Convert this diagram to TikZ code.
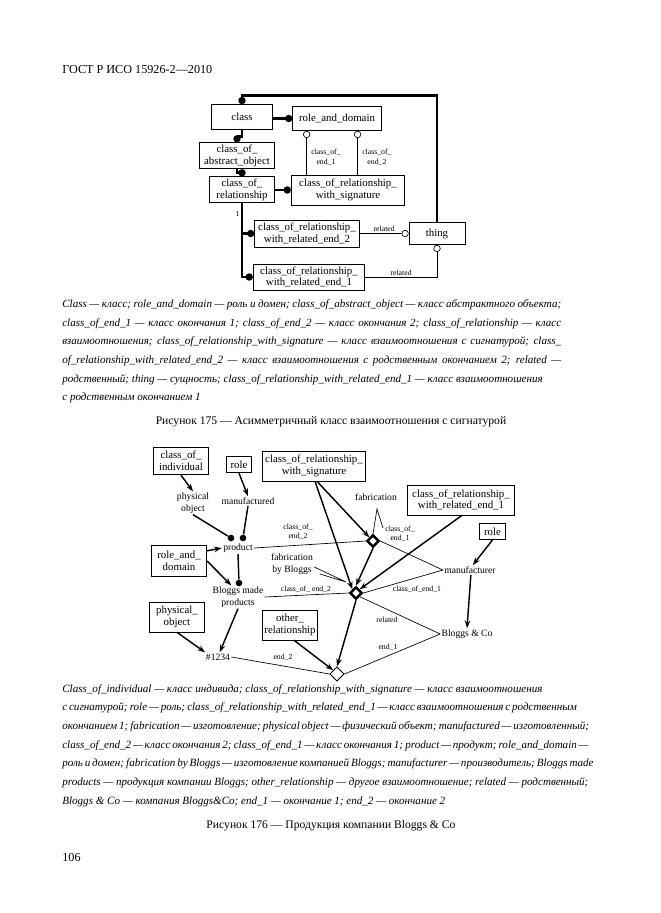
\documentclass[tikz,border=0pt]{standalone}
\usepackage{fontspec}
\setmainfont{Liberation Serif}
\usetikzlibrary{arrows,arrows.meta}
\usetikzlibrary{positioning}
\usetikzlibrary{calc}
\usetikzlibrary{shapes.geometric}

\begin{document}
\begin{tikzpicture}[x=0.3175mm,y=-0.3175mm,>=stealth',semithick,
			font=\fontsize{9.8}{10.6}\selectfont]
			\tikzstyle{entity}=[draw,line width=0.7pt,align=center,inner sep=1pt]
			\tikzstyle{lbl}=[align=center,inner sep=1pt,font=\fontsize{8.7}{10.5}\selectfont]
			\tikzstyle{tag}=[align=center,inner sep=1pt,font=\fontsize{7}{8.5}\selectfont]
			\tikzstyle{sub}=[line width=2.5pt,-{Circle[length=6.5pt]}]
			\tikzstyle{rel}=[line width=0.6pt]
			\tikzstyle{cls}=[line width=1.3pt,-{Stealth[length=7pt,width=5pt]}]
			\tikzstyle{mem}=[line width=1.3pt]
			\tikzstyle{dot}=[circle,fill,inner sep=0pt,minimum size=6pt]
			\tikzstyle{rship}=[diamond,draw,fill=white,line width=2.2pt,inner sep=0pt,minimum size=11pt]
			\tikzstyle{orship}=[diamond,draw,fill=white,line width=0.7pt,inner sep=0pt,minimum size=13pt]
			\tikzstyle{capline}=[anchor=base west,inner sep=0pt,font=\fontsize{10}{12}\selectfont\itshape]
			
			\fill[white] (0,0) rectangle (661,913);
			\useasboundingbox (0,0) rectangle (661,913);
			
			\node[anchor=base west,inner sep=0pt,font=\fontsize{11}{13}\selectfont] (head) at (62,73) {ГОСТ Р ИСО 15926-2—2010};
			
			% figure 175
			\node[entity,minimum width=55pt,minimum height=22.5pt]   (class)   at (242,117)   {class};
			\node[entity,minimum width=80pt,minimum height=21.6pt]   (rad)     at (337,118.5) {role\_and\_domain};
			\node[entity,minimum width=68pt,minimum height=23pt]     (coao)    at (237,155.5) {class\_of\_\\abstract\_object};
			\node[entity,minimum width=58.5pt,minimum height=23pt]   (cor)     at (242,189.5) {class\_of\_\\relationship};
			\node[entity,minimum width=102.6pt,minimum height=27pt]  (corws)   at (348,190)   {class\_of\_relationship\_\\with\_signature};
			\node[entity,minimum width=94.5pt,minimum height=24.3pt] (corwre2) at (307,233.5) {class\_of\_relationship\_\\with\_related\_end\_2};
			\node[entity,minimum width=100.8pt,minimum height=23.4pt](corwre1) at (309,277)   {class\_of\_relationship\_\\with\_related\_end\_1};
			\node[entity,minimum width=50.4pt,minimum height=19.8pt] (thing)   at (437,233.5) {thing};
			
			\coordinate (ce1top) at ($(rad.south west)!0.16!(rad.south east)$);
			\coordinate (ce2top) at ($(rad.south west)!0.73!(rad.south east)$);
			
			\draw[sub] (thing.north) |- ($(class.north)+(0,-9)$) -- (class.north);
			\draw[sub] (class.east |- rad.west) -- (rad.west);
			\draw[sub] (class.south) -- ++(0,7) -| (coao.north);
			\draw[sub] (coao.south) -- ++(0,4) -| (cor.north);
			\draw[sub] (cor.east |- corws.west) -- (corws.west);
			\draw[sub] (cor.south) |- node[pos=.18,left,tag] {1} (corwre2.west);
			\draw[sub] (cor.south) |- (corwre1.west);
			
			\draw[rel,{Circle[open,length=6.5pt]}-] (ce1top) -- (ce1top |- corws.north)
			node[pos=.6,right=3pt,tag] {class\_of\_\\end\_1};
			\draw[rel,{Circle[open,length=6.5pt]}-] (ce2top) -- (ce2top |- corws.north)
			node[pos=.6,right=3pt,tag] {class\_of\_\\end\_2};
			\draw[rel,-{Circle[open,length=6.5pt]}] (corwre2.east) -- node[above,tag] {related} (thing.west);
			\draw[rel,-{Circle[open,length=6.5pt]}] (corwre1.east) -| node[pos=.25,above,tag] {related} (thing.south);
			
			\node[capline] (c175a) at (62,307) {\makebox[158.4mm][s]{Class — класс; role\_and\_domain — роль и домен; class\_of\_abstract\_object — класс абстрактного объекта;}};
			\node[capline] (c175b) at (62,326) {\makebox[158.4mm][s]{class\_of\_end\_1 — класс окончания 1; class\_of\_end\_2 — класс окончания 2; class\_of\_relationship — класс}};
			\node[capline] (c175c) at (62,344.5) {\makebox[158.4mm][s]{взаимоотношения; class\_of\_relationship\_with\_signature — класс взаимоотношения с сигнатурой; class\_}};
			\node[capline] (c175d) at (62,363) {\makebox[158.4mm][s]{of\_relationship\_with\_related\_end\_2 — класс взаимоотношения с родственным окончанием 2; related —}};
			\node[capline] (c175e) at (62,382) {родственный; thing — сущность; class\_of\_relationship\_with\_related\_end\_1 — класс взаимоотношения};
			\node[capline] (c175f) at (62,400.5) {с родственным окончанием 1};
			
			\node[anchor=base,inner sep=0pt,font=\fontsize{10.5}{12}\selectfont] (t175) at (331,424) {Рисунок 175 — Асимметричный класс взаимоотношения с сигнатурой};
			
			% figure 176
			\node[entity,minimum width=50pt,minimum height=25pt]   (coi)      at (181,461)   {class\_of\_\\individual};
			\node[entity,minimum width=23pt,minimum height=15pt]   (role1)    at (239,464.5) {role};
			\node[entity,minimum width=93.6pt,minimum height=27pt] (corws2)   at (314,466)   {class\_of\_relationship\_\\with\_signature};
			\node[entity,minimum width=97pt,minimum height=27pt]   (corwre1b) at (461,500)   {class\_of\_relationship\_\\with\_related\_end\_1};
			\node[entity,minimum width=24pt,minimum height=14.5pt] (role2)    at (492.5,531.5) {role};
			\node[entity,minimum width=50pt,minimum height=28pt]   (rad2)     at (179,561)   {role\_and\_\\domain};
			\node[entity,minimum width=50pt,minimum height=27pt]   (po)       at (177,617)   {physical\_\\object};
			\node[entity,minimum width=50pt,minimum height=27pt]   (other)    at (290,625)   {other\_\\relationship};
			
			\node[lbl] (physobj) at (193,503) {physical\\object};
			\node[lbl] (manuf)   at (248,501) {manufactured};
			\node[lbl] (product) at (238,548) {product};
			\node[lbl] (fabr)    at (376,497) {fabrication};
			\node[lbl] (fbb)     at (292,564) {fabrication\\by Bloggs};
			\node[lbl] (manufr)  at (470,570) {manufacturer};
			\node[lbl] (bmp)     at (238,597) {Bloggs made\\products};
			\node[lbl] (bco)     at (467,634) {Bloggs \& Co};
			\node[lbl] (n1234)   at (218,657) {\#1234};
			
			\node[tag] (ce1a) at (400,534) {class\_of\_\\end\_1};
			\node[tag] (ce2a) at (298,532) {class\_of\_\\end\_2};
			\node[tag] (ce2b) at (306,589) {class\_of\_ end\_2};
			\node[tag] (ce1b) at (417,589) {class\_of\_end\_1};
			\node[tag] (relb) at (387,620) {related};
			\node[tag] (e1)   at (388,647) {end\_1};
			\node[tag] (e2)   at (283,657) {end\_2};
			
			\node[dot] (dot1) at (231,538) {};
			\node[dot] (dot2) at (243,538) {};
			\node[dot] (dot3) at (239,583) {};
			
			\node[rship]  (fab)    at (373,541) {};
			\node[rship]  (fabbl)  at (356,593) {};
			\node[orship] (orel)   at (337,674) {};
			
			\coordinate (fabknee) at (377,509);
			\coordinate (fabend)  at (383,528);
			\coordinate (fbbtip)  at (346,582);
			\coordinate (fbbtail) at (320,574);
			
			\draw[cls] (coi.south) -- (physobj.north);
			\draw[cls] (role1.south) -- (manuf.north);
			\draw[mem] (physobj.south) -- (dot1);
			\draw[mem] (manuf.south) -- (dot2);
			\draw[cls] (rad2.20) -- (product.west);
			\draw[cls] (rad2.east) -- (bmp.120);
			\draw[mem] (product.south) -- (dot3);
			\draw[cls] (bmp.south) -- (n1234.70);
			\draw[cls] (po.south) -- (n1234.160);
			\draw[cls] (other.-75) -- (orel.north west);
			\draw[rel] (n1234.east) -- (orel.west);
			\draw[rel] (orel.east) -- (bco.west);
			\draw[rel] (fabbl.south east) -- (bco.west);
			\draw[cls] (fabbl.south) -- (orel.north);
			\draw[rel] (fabbl.east) -- (manufr.west);
			\draw[rel] (fab.east) -- (manufr.west);
			\draw[rel] (fabbl.west) -- (bmp.east);
			\draw[rel] (fab.west) -- (product.east);
			\draw[cls] (fab.south) -- (fabbl.north);
			\draw[cls] ($(corws2.south)+(3,0)$) -- (fab.north west);
			\draw[cls] ($(corws2.south)+(1,0)$) -- (fabbl.north west);
			\draw[cls] ($(corwre1b.south)+(1,0)$) -- (fabbl.north east);
			\draw[cls] (role2.south) -- (manufr.60);
			\draw[cls] (manufr.-80) -- (bco.north);
			\draw[rel] (fab.north) -- (fabknee) -- (fabend);
			\draw[rel] ($(fbb.east)+(0,3)$) -- (fbbtip) -- (fbbtail);
			
			\node[capline] (c176a) at (62,692) {Class\_of\_individual — класс индивида; class\_of\_relationship\_with\_signature — класс взаимоотношения};
			\node[capline] (c176b) at (62,710.5) {\makebox[158.4mm][s]{с сигнатурой; role — роль; class\_of\_relationship\_with\_related\_end\_1 — класс взаимоотношения с родственным}};
			\node[capline] (c176c) at (62,729) {\makebox[158.4mm][s]{окончанием 1; fabrication — изготовление; physical object — физический объект; manufactured — изготовленный;}};
			\node[capline] (c176d) at (62,748) {\makebox[158.4mm][s]{class\_of\_end\_2 — класс окончания 2; class\_of\_end\_1 — класс окончания 1; product — продукт; role\_and\_domain —}};
			\node[capline] (c176e) at (62,766.5) {\makebox[158.4mm][s]{роль и домен; fabrication by Bloggs — изготовление компанией Bloggs; manufacturer — производитель; Bloggs made}};
			\node[capline] (c176f) at (62,785) {products — продукция компании Bloggs; other\_relationship — другое взаимоотношение; related — родственный;};
			\node[capline] (c176g) at (62,804) {Bloggs \& Co — компания Bloggs\&Co; end\_1 — окончание 1; end\_2 — окончание 2};
			
			\node[anchor=base,inner sep=0pt,font=\fontsize{10.5}{12}\selectfont] (t176) at (331,828) {Рисунок 176 — Продукция компании Bloggs \& Co};
			
			\node[anchor=base west,inner sep=0pt,font=\fontsize{11}{13}\selectfont] (pnum) at (62,861) {106};
			\end{tikzpicture}
\end{document}
